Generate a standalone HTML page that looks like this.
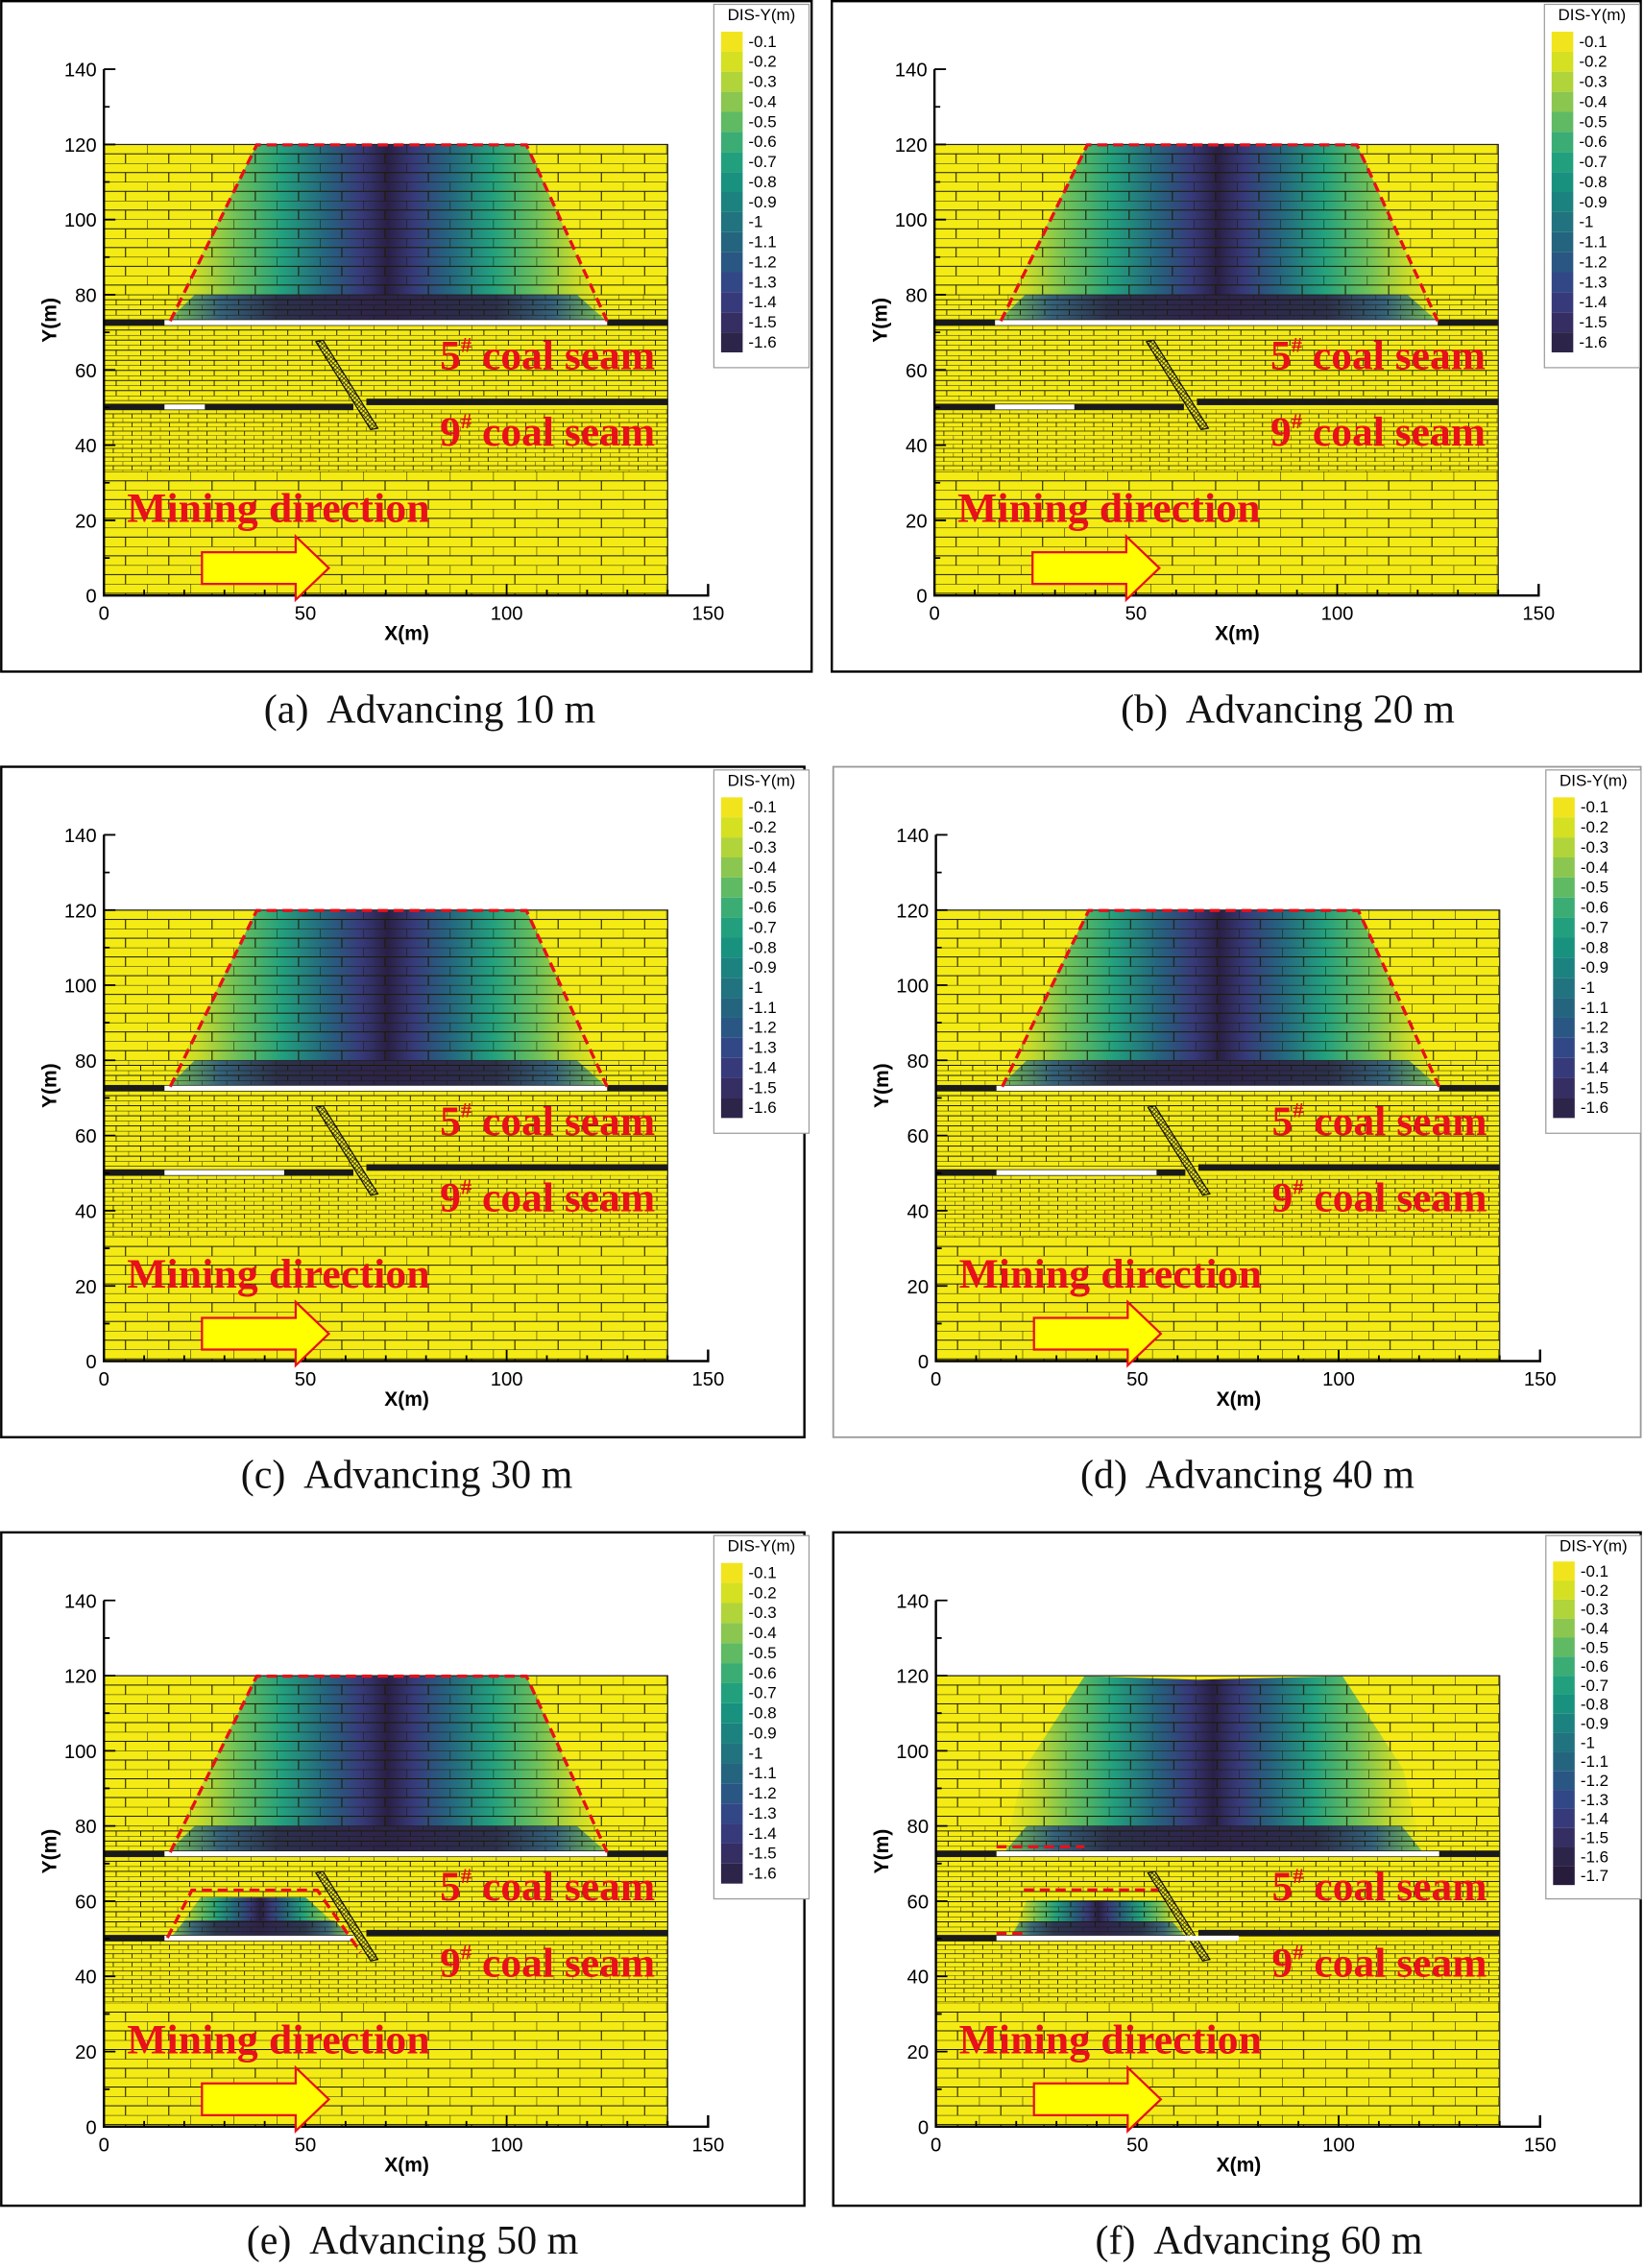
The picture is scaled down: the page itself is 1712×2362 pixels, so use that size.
<!DOCTYPE html>
<html><head><meta charset="utf-8"><style>
html,body{margin:0;padding:0;background:#fff}
svg{display:block}
.t{font-family:"Liberation Sans",Arial,sans-serif;font-size:13.5px;fill:#000}
.lg{font-family:"Liberation Sans",Arial,sans-serif;font-size:11.3px;fill:#000}
.ax{font-family:"Liberation Sans",Arial,sans-serif;font-size:14px;font-weight:bold;fill:#000}
.red{font-family:"Liberation Serif",serif;font-weight:bold;font-size:29px;fill:#e8101a}
.cap{font-family:"Liberation Serif",serif;font-size:28px;fill:#111;white-space:pre}
</style></head><body>
<svg width="1712" height="2362" viewBox="0 0 1140 1573" xmlns="http://www.w3.org/2000/svg">
<defs>
<pattern id="pb" width="30" height="13" patternUnits="userSpaceOnUse" x="72" y="100.2">
<path d="M0 0H30M0 6.5H30M0 0V6.5M15 6.5V13" stroke="#1a1a00" stroke-width="0.7" fill="none"/></pattern>
<pattern id="pb2" width="30" height="13" patternUnits="userSpaceOnUse" x="72" y="327">
<path d="M0 0H30M0 6.5H30M0 0V6.5M15 6.5V13" stroke="#1a1a00" stroke-width="0.7" fill="none"/></pattern>
<pattern id="pm" width="17" height="7" patternUnits="userSpaceOnUse" x="72" y="204.4">
<path d="M0 0H17M0 3.5H17M0 0V3.5M8.5 3.5V7" stroke="#1a1a00" stroke-width="0.6" fill="none"/></pattern>
<pattern id="pf" width="13" height="6" patternUnits="userSpaceOnUse" x="72" y="284">
<path d="M0 0H13M0 3H13M0 0V3M6.5 3V6" stroke="#1a1a00" stroke-width="0.55" fill="none"/></pattern>
<pattern id="hx" width="3" height="3" patternUnits="userSpaceOnUse">
<rect width="3" height="3" fill="#f4eb14"/><path d="M0 0L3 3M3 0L0 3" stroke="#222" stroke-width="0.5"/></pattern>
<linearGradient id="gU" x1="0" x2="1" y1="0" y2="0">
<stop offset="0" stop-color="#f4eb14"/><stop offset="0.07" stop-color="#c8dc2a"/><stop offset="0.16" stop-color="#6cc05a"/>
<stop offset="0.26" stop-color="#22a07e"/><stop offset="0.36" stop-color="#25647f"/><stop offset="0.44" stop-color="#373a7a"/>
<stop offset="0.5" stop-color="#2a2046"/><stop offset="0.56" stop-color="#373a7a"/><stop offset="0.64" stop-color="#25647f"/>
<stop offset="0.74" stop-color="#22a07e"/><stop offset="0.84" stop-color="#6cc05a"/><stop offset="0.93" stop-color="#c8dc2a"/><stop offset="1" stop-color="#f4eb14"/>
</linearGradient>
<linearGradient id="gB" x1="0" x2="1" y1="0" y2="0">
<stop offset="0" stop-color="#6cc05a"/><stop offset="0.12" stop-color="#2a5683"/><stop offset="0.25" stop-color="#2d2449"/>
<stop offset="0.75" stop-color="#2d2449"/><stop offset="0.88" stop-color="#2a5683"/><stop offset="1" stop-color="#6cc05a"/>
</linearGradient>
<g id="grid">
<rect x="72" y="100.2" width="391" height="104.2" fill="url(#pb)"/>
<rect x="72" y="204.4" width="391" height="18" fill="url(#pm)"/>
<rect x="72" y="226" width="391" height="52" fill="url(#pm)"/>
<rect x="72" y="284" width="391" height="43" fill="url(#pf)"/>
<rect x="72" y="327" width="391" height="86" fill="url(#pb2)"/>
<rect x="72" y="100.2" width="391" height="312.8" fill="none" stroke="#222" stroke-width="0.8"/>
<rect x="72" y="221.5" width="391" height="4.5" fill="#1a1a1a"/>
<rect x="72" y="280" width="173" height="4.5" fill="#1a1a1a"/>
<rect x="254" y="276.5" width="209" height="4.5" fill="#1a1a1a"/>
<polygon points="219,237 224,236 262,297 257,298" fill="url(#hx)" stroke="#111" stroke-width="0.8"/>
<path d="M72 48V413H491V405" stroke="#000" stroke-width="1.6" fill="none"/>
<path d="M72 413H80M72 360.9H80M72 308.7H80M72 256.6H80M72 204.4H80M72 152.3H80M72 100.2H80M72 48H80M72 387H76M72 334.8H76M72 282.6H76M72 230.5H76M72 178.3H76M72 126.2H76M72 74.1H76M211.7 413V405M351.3 413V405M99.9 413V409M127.7 413V409M155.6 413V409M183.5 413V409M239.6 413V409M267.5 413V409M295.4 413V409M323.4 413V409M379.2 413V409M407.1 413V409M435 413V409M463 413V409" stroke="#000" stroke-width="1.2"/>
</g>
<g id="lt">
<text class="t" x="67" y="418" text-anchor="end">0</text><text class="t" x="67" y="365.9" text-anchor="end">20</text>
<text class="t" x="67" y="313.7" text-anchor="end">40</text><text class="t" x="67" y="261.6" text-anchor="end">60</text>
<text class="t" x="67" y="209.4" text-anchor="end">80</text><text class="t" x="67" y="157.3" text-anchor="end">100</text>
<text class="t" x="67" y="105.2" text-anchor="end">120</text><text class="t" x="67" y="53" text-anchor="end">140</text>
<text class="t" x="72" y="430" text-anchor="middle">0</text><text class="t" x="211.7" y="430" text-anchor="middle">50</text>
<text class="t" x="351.3" y="430" text-anchor="middle">100</text><text class="t" x="491" y="430" text-anchor="middle">150</text>
<text class="ax" x="282" y="444" text-anchor="middle">X(m)</text>
<text class="ax" x="39" y="222" text-anchor="middle" transform="rotate(-90 39 222)">Y(m)</text>
<text class="red" x="305" y="256">5<tspan font-size="15" dy="-12">#</tspan><tspan dy="12"> coal seam</tspan></text>
<text class="red" x="305" y="309">9<tspan font-size="15" dy="-12">#</tspan><tspan dy="12"> coal seam</tspan></text>
<text class="red" x="88" y="362" font-size="25" textLength="210">Mining direction</text>
</g>
<polygon id="arrow" points="140,383 205,383 205,372 228,394 205,416 205,405 140,405" fill="#ffff00" stroke="#e8101a" stroke-width="1.5"/>
<g id="leg16">
<rect x="495" y="3" width="66" height="252" fill="#fff" stroke="#999" stroke-width="0.8"/>
<rect x="500" y="22" width="15" height="13.9" fill="#f2e41c"/><rect x="500" y="35.9" width="15" height="13.9" fill="#d4e021"/>
<rect x="500" y="49.8" width="15" height="13.9" fill="#b0d43a"/><rect x="500" y="63.7" width="15" height="13.9" fill="#8ac650"/>
<rect x="500" y="77.6" width="15" height="13.9" fill="#5fba63"/><rect x="500" y="91.5" width="15" height="13.9" fill="#3bad74"/>
<rect x="500" y="105.4" width="15" height="13.9" fill="#22a07e"/><rect x="500" y="119.3" width="15" height="13.9" fill="#18917f"/>
<rect x="500" y="133.2" width="15" height="13.9" fill="#1b827f"/><rect x="500" y="147.1" width="15" height="13.9" fill="#20737f"/>
<rect x="500" y="161" width="15" height="13.9" fill="#25647f"/><rect x="500" y="174.9" width="15" height="13.9" fill="#2a5683"/>
<rect x="500" y="188.8" width="15" height="13.9" fill="#324785"/><rect x="500" y="202.7" width="15" height="13.9" fill="#373a7a"/>
<rect x="500" y="216.6" width="15" height="13.9" fill="#352e62"/><rect x="500" y="230.5" width="15" height="13.9" fill="#2d2449"/>
</g>
<g id="leg17">
<rect x="495" y="3" width="66" height="252" fill="#fff" stroke="#999" stroke-width="0.8"/>
<rect x="500" y="21" width="15" height="13.2" fill="#f2e41c"/><rect x="500" y="34.2" width="15" height="13.2" fill="#d4e021"/>
<rect x="500" y="47.4" width="15" height="13.2" fill="#b0d43a"/><rect x="500" y="60.6" width="15" height="13.2" fill="#8ac650"/>
<rect x="500" y="73.8" width="15" height="13.2" fill="#5fba63"/><rect x="500" y="87" width="15" height="13.2" fill="#3bad74"/>
<rect x="500" y="100.2" width="15" height="13.2" fill="#22a07e"/><rect x="500" y="113.4" width="15" height="13.2" fill="#18917f"/>
<rect x="500" y="126.6" width="15" height="13.2" fill="#1b827f"/><rect x="500" y="139.8" width="15" height="13.2" fill="#20737f"/>
<rect x="500" y="153" width="15" height="13.2" fill="#25647f"/><rect x="500" y="166.2" width="15" height="13.2" fill="#2a5683"/>
<rect x="500" y="179.4" width="15" height="13.2" fill="#324785"/><rect x="500" y="192.6" width="15" height="13.2" fill="#373a7a"/>
<rect x="500" y="205.8" width="15" height="13.2" fill="#352e62"/><rect x="500" y="219" width="15" height="13.2" fill="#2d2449"/>
<rect x="500" y="232.2" width="15" height="13.2" fill="#271c3c"/>
</g>
<g id="lab16"><text class="lg" x="528" y="14" text-anchor="middle">DIS-Y(m)</text>
<text class="lg"><tspan x="519" y="32.5">-0.1</tspan><tspan x="519" y="46.4">-0.2</tspan><tspan x="519" y="60.3">-0.3</tspan><tspan x="519" y="74.2">-0.4</tspan><tspan x="519" y="88.1">-0.5</tspan><tspan x="519" y="102">-0.6</tspan><tspan x="519" y="115.9">-0.7</tspan><tspan x="519" y="129.8">-0.8</tspan><tspan x="519" y="143.7">-0.9</tspan><tspan x="519" y="157.6">-1</tspan><tspan x="519" y="171.5">-1.1</tspan><tspan x="519" y="185.4">-1.2</tspan><tspan x="519" y="199.3">-1.3</tspan><tspan x="519" y="213.2">-1.4</tspan><tspan x="519" y="227.1">-1.5</tspan><tspan x="519" y="241">-1.6</tspan></text></g>
<g id="upper">
<polygon points="116,223 178,100.5 365,100.5 421,223" fill="url(#gU)"/>
<polygon points="135,204.4 400,204.4 421,223 116,223" fill="url(#gB)" opacity="0.9"/>
</g>
</defs>

<!-- Panel a -->
<g transform="translate(0,0)">
<rect x="0.8" y="0.8" width="562" height="465" fill="#fff" stroke="#000" stroke-width="1.6"/>
<use href="#leg16"/><use href="#lab16"/>
<rect x="72" y="100.2" width="391" height="312.8" fill="#f4eb14"/>
<use href="#upper"/><use href="#grid"/>
<rect x="114" y="222" width="307" height="3.5" fill="#fff"/>
<rect x="114" y="280.5" width="28" height="3.5" fill="#fff"/>
<polyline points="118,222.7 178,100.5 365,100.5 421,222.7" fill="none" stroke="#e8101a" stroke-width="2.2" stroke-dasharray="7 4"/>
<use href="#lt"/><use href="#arrow"/>
<text class="cap" x="298" y="501" text-anchor="middle">(a)  Advancing 10 m</text>
</g>

<!-- Panel b -->
<g transform="translate(576,0)">
<rect x="0.8" y="0.8" width="561" height="465" fill="#fff" stroke="#000" stroke-width="1.6"/>
<use href="#leg16"/><use href="#lab16"/>
<rect x="72" y="100.2" width="391" height="312.8" fill="#f4eb14"/>
<use href="#upper"/><use href="#grid"/>
<rect x="114" y="222" width="307" height="3.5" fill="#fff"/>
<rect x="114" y="280.5" width="55" height="3.5" fill="#fff"/>
<polyline points="118,222.7 178,100.5 365,100.5 421,222.7" fill="none" stroke="#e8101a" stroke-width="2.2" stroke-dasharray="7 4"/>
<use href="#lt"/><use href="#arrow"/>
<text class="cap" x="317" y="501" text-anchor="middle">(b)  Advancing 20 m</text>
</g>

<!-- Panel c -->
<g transform="translate(0,531)">
<rect x="0.8" y="0.8" width="557" height="465" fill="#fff" stroke="#000" stroke-width="1.6"/>
<use href="#leg16"/><use href="#lab16"/>
<rect x="72" y="100.2" width="391" height="312.8" fill="#f4eb14"/>
<use href="#upper"/><use href="#grid"/>
<rect x="114" y="222" width="307" height="3.5" fill="#fff"/>
<rect x="114" y="280.5" width="83" height="3.5" fill="#fff"/>
<polyline points="118,222.7 178,100.5 365,100.5 421,222.7" fill="none" stroke="#e8101a" stroke-width="2.2" stroke-dasharray="7 4"/>
<use href="#lt"/><use href="#arrow"/>
<text class="cap" x="282" y="501" text-anchor="middle">(c)  Advancing 30 m</text>
</g>

<!-- Panel d -->
<g transform="translate(577,531)">
<rect x="0.8" y="0.8" width="560" height="465" fill="#fff" stroke="#999" stroke-width="1.2"/>
<use href="#leg16"/><use href="#lab16"/>
<rect x="72" y="100.2" width="391" height="312.8" fill="#f4eb14"/>
<use href="#upper"/><use href="#grid"/>
<rect x="114" y="222" width="307" height="3.5" fill="#fff"/>
<rect x="114" y="280.5" width="111" height="3.5" fill="#fff"/>
<polyline points="118,222.7 178,100.5 365,100.5 421,222.7" fill="none" stroke="#e8101a" stroke-width="2.2" stroke-dasharray="7 4"/>
<use href="#lt"/><use href="#arrow"/>
<text class="cap" x="288" y="501" text-anchor="middle">(d)  Advancing 40 m</text>
</g>

<!-- Panel e -->
<g transform="translate(0,1062)">
<rect x="0.8" y="0.8" width="557" height="467" fill="#fff" stroke="#000" stroke-width="1.6"/>
<use href="#leg16"/><use href="#lab16"/>
<rect x="72" y="100.2" width="391" height="312.8" fill="#f4eb14"/>
<use href="#upper"/>
<polygon points="119,281 139,254 212,254 242,281" fill="url(#gU)"/>
<polygon points="128,270 232,270 242,281 119,281" fill="url(#gB)" opacity="0.85"/>
<use href="#grid"/>
<rect x="114" y="222" width="307" height="3.5" fill="#fff"/>
<rect x="114" y="280.5" width="131" height="3.5" fill="#fff"/>
<polyline points="118,222.7 178,100.5 365,100.5 421,222.7" fill="none" stroke="#e8101a" stroke-width="2.2" stroke-dasharray="7 4"/>
<polyline points="116,282 133,249 220,249 250,292" fill="none" stroke="#e8101a" stroke-width="2.2" stroke-dasharray="7 4"/>
<use href="#lt"/><use href="#arrow"/>
<text class="cap" x="286" y="501" text-anchor="middle">(e)  Advancing 50 m</text>
</g>

<!-- Panel f -->
<g transform="translate(577,1062)">
<rect x="0.8" y="0.8" width="560" height="467" fill="#fff" stroke="#000" stroke-width="1.6"/>
<use href="#leg17"/>
<text class="lg" x="528" y="14" text-anchor="middle">DIS-Y(m)</text>
<text class="lg"><tspan x="519" y="31.5">-0.1</tspan><tspan x="519" y="44.7">-0.2</tspan><tspan x="519" y="57.9">-0.3</tspan><tspan x="519" y="71.1">-0.4</tspan><tspan x="519" y="84.3">-0.5</tspan><tspan x="519" y="97.5">-0.6</tspan><tspan x="519" y="110.7">-0.7</tspan><tspan x="519" y="123.9">-0.8</tspan><tspan x="519" y="137.1">-0.9</tspan><tspan x="519" y="150.3">-1</tspan><tspan x="519" y="163.5">-1.1</tspan><tspan x="519" y="176.7">-1.2</tspan><tspan x="519" y="189.9">-1.3</tspan><tspan x="519" y="203.1">-1.4</tspan><tspan x="519" y="216.3">-1.5</tspan><tspan x="519" y="229.5">-1.6</tspan><tspan x="519" y="242.7">-1.7</tspan></text>
<rect x="72" y="100.2" width="391" height="312.8" fill="#f4eb14"/>
<polygon points="119,223 133,165 175,100.5 254,103 354,100.5 396,165 410,223" fill="url(#gU)"/>
<polygon points="135,204.4 395,204.4 410,223 119,223" fill="url(#gB)" opacity="0.9"/>
<polygon points="124,281 135,256 230,256 245,281" fill="url(#gU)"/>
<polygon points="130,271 236,271 245,281 124,281" fill="url(#gB)" opacity="0.85"/>
<use href="#grid"/>
<rect x="114" y="222" width="307" height="3.5" fill="#fff"/>
<rect x="114" y="280.5" width="168" height="3.5" fill="#fff"/>
<line x1="114" y1="218.8" x2="175" y2="218.8" stroke="#e8101a" stroke-width="2.2" stroke-dasharray="7 4"/>
<line x1="133" y1="248.8" x2="226" y2="248.8" stroke="#e8101a" stroke-width="2.2" stroke-dasharray="7 4"/>
<line x1="114" y1="279" x2="133" y2="279" stroke="#e8101a" stroke-width="2.2" stroke-dasharray="7 4"/>
<use href="#lt"/><use href="#arrow"/>
<text class="cap" x="296" y="501" text-anchor="middle">(f)  Advancing 60 m</text>
</g>
</svg>
</body></html>
